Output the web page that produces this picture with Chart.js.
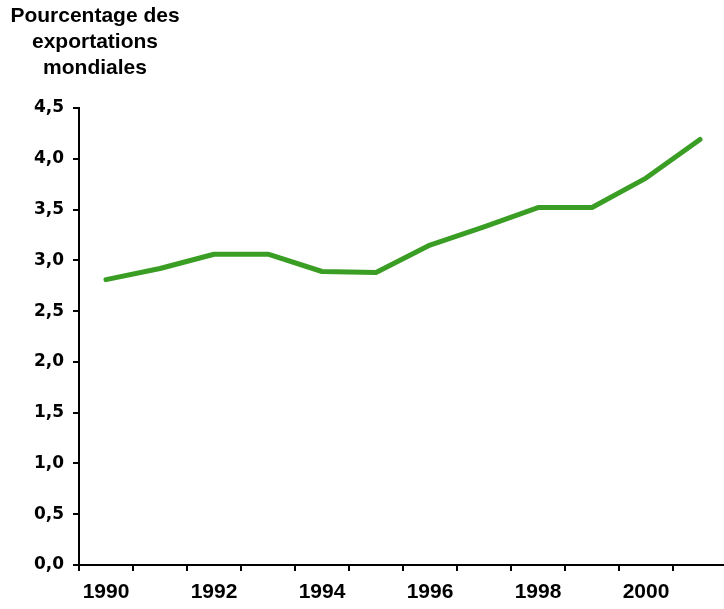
<!DOCTYPE html>
<html lang="fr">
<head>
<meta charset="utf-8">
<title>Pourcentage des exportations mondiales</title>
<script src="https://cdn.jsdelivr.net/npm/chart.js@4/dist/chart.umd.min.js"></script>
<style>
    html, body { margin: 0; padding: 0; background: #fff; overflow: hidden; }
    canvas { display: block; }
</style>
</head>
<body>
<canvas id="chart" width="727" height="609"></canvas>
<script>
'use strict';

// data
const years = ['1990', '1991', '1992', '1993', '1994', '1995', '1996', '1997', '1998', '1999', '2000', '2001'];
const shareOfWorldExports = [2.81, 2.92, 3.06, 3.06, 2.89, 2.88, 3.15, 3.33, 3.52, 3.52, 3.81, 4.19];
const titleLines = ['Pourcentage des', 'exportations', 'mondiales'];
const yMin = 0;
const yMax = 4.5;
const yStep = 0.5;

const lineGreen = '#3b9e24';

// title block in the top-left corner, lines centred on one column
const cornerTitle = {
    id: 'cornerTitle',
    afterDraw(chart) {
        const ctx = chart.ctx;
        ctx.save();
        ctx.fillStyle = '#000';
        ctx.font = 'bold 21px "Liberation Sans", Arial, sans-serif';
        ctx.textAlign = 'center';
        ctx.textBaseline = 'alphabetic';
        titleLines.forEach((line, i) => {
            ctx.fillText(line, 95, 22 + i * 26);
        });
        ctx.restore();
    }
};

new Chart(document.getElementById('chart'), {
    type: 'line',
    data: {
        labels: years,
        datasets: [{
            label: 'Pourcentage des exportations mondiales',
            data: shareOfWorldExports,
            borderColor: lineGreen,
            backgroundColor: lineGreen,
            borderWidth: 5,
            borderCapStyle: 'round',
            borderJoinStyle: 'round',
            pointRadius: 0,
            pointHoverRadius: 0,
            tension: 0,
            fill: false
        }]
    },
    options: {
        responsive: false,
        animation: false,
        events: [],
        layout: {
            padding: { top: 108, left: 0, right: 0, bottom: 0 }
        },
        plugins: {
            legend: { display: false },
            title: { display: false },
            tooltip: { enabled: false }
        },
        scales: {
            x: {
                offset: true,
                afterFit(scale) { scale.height = 44; },
                grid: {
                    offset: true,
                    drawOnChartArea: false,
                    drawTicks: true,
                    tickLength: 6,
                    color: '#000',
                    lineWidth: 2
                },
                border: { display: true, color: '#000', width: 2 },
                ticks: {
                    autoSkip: false,
                    maxRotation: 0,
                    padding: 9,
                    color: '#000',
                    font: { family: '"Liberation Sans", Arial, sans-serif', size: 21, weight: 'bold' },
                    callback(value, index) {
                        return index % 2 === 0 ? this.getLabelForValue(value) : '';
                    }
                }
            },
            y: {
                min: yMin,
                max: yMax,
                afterFit(scale) { scale.width = 79; },
                grid: {
                    drawOnChartArea: false,
                    drawTicks: true,
                    tickLength: 6,
                    color: '#000',
                    lineWidth: 2
                },
                border: { display: true, color: '#000', width: 2 },
                ticks: {
                    stepSize: yStep,
                    padding: 9,
                    color: '#000',
                    font: { family: '"DejaVu Sans", sans-serif', size: 17, weight: 'bold' },
                    callback(value) {
                        return value.toFixed(1).replace('.', ',');
                    }
                }
            }
        }
    },
    plugins: [cornerTitle]
});
</script>
</body>
</html>
